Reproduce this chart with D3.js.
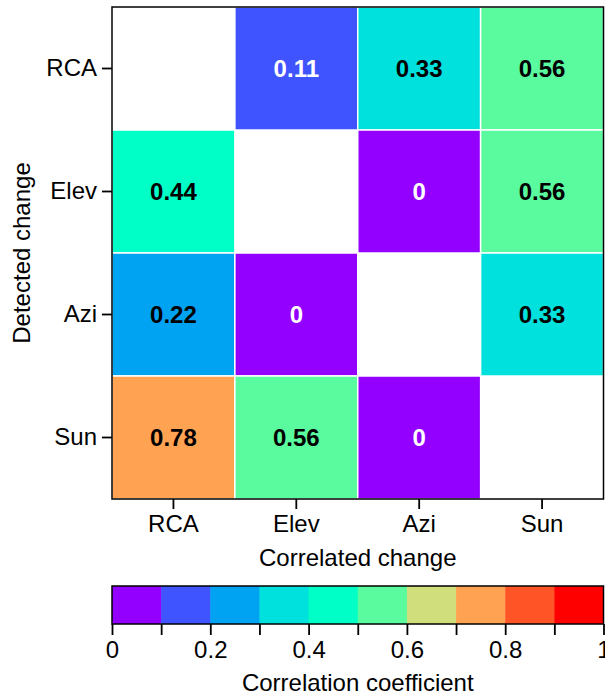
<!DOCTYPE html>
<html><head><meta charset="utf-8">
<script src="https://cdn.jsdelivr.net/npm/d3@7"></script>
<style>body{margin:0;background:#fff;} text{font-family:"Liberation Sans",Arial,sans-serif;}</style>
</head><body>
<svg id="c" width="605" height="697"></svg>
<script>
const detected = ["RCA","Elev","Azi","Sun"];
const correlated = ["RCA","Elev","Azi","Sun"];
const values = [
  [null, 0.11, 0.33, 0.56],
  [0.44, null, 0, 0.56],
  [0.22, 0, null, 0.33],
  [0.78, 0.56, 0, null]
];
const binColors = ["#9300FF","#3F53FF","#00A2F2","#00E0DC","#00FFC6","#5AFA9E","#D0DF7C","#FFA352","#FF5526","#FF0000"];
const colorTicks = [0,0.2,0.4,0.6,0.8,1];

const FS = 24;
const svg = d3.select("#c");
const L=112, T=7, R=603.5, B=499;
const x = d3.scaleBand().domain(correlated).range([L,R]);
const y = d3.scaleBand().domain(detected).range([T,B]);
const color = d3.scaleQuantize().domain([0,1]).range(binColors);

const cells=[];
values.forEach((row,i)=>row.forEach((v,j)=>{ if(v!==null) cells.push({r:detected[i],c:correlated[j],v}); }));

svg.append("g").selectAll("rect").data(cells).join("rect")
  .attr("x",d=>x(d.c)).attr("y",d=>y(d.r))
  .attr("width",x.bandwidth()).attr("height",y.bandwidth())
  .attr("fill",d=>color(d.v)).attr("stroke","#fff").attr("stroke-width",1.5);

svg.append("g").selectAll("text").data(cells).join("text")
  .attr("x",d=>x(d.c)+x.bandwidth()/2).attr("y",d=>y(d.r)+y.bandwidth()/2)
  .attr("dy","0.36em").attr("text-anchor","middle")
  .attr("font-weight","bold").attr("font-size",FS)
  .attr("fill",d=>d.v<0.2?"#fff":"#000")
  .text(d=>d3.format("~g")(d.v));

svg.append("rect").attr("x",L).attr("y",T).attr("width",R-L).attr("height",B-T)
  .attr("fill","none").attr("stroke","#000").attr("stroke-width",1.5);

const xa = svg.append("g").attr("transform",`translate(0,${B})`)
  .call(d3.axisBottom(x).tickSize(10).tickPadding(6));
const ya = svg.append("g").attr("transform",`translate(${L},0)`)
  .call(d3.axisLeft(y).tickSize(10).tickPadding(5));
[xa,ya].forEach(a=>{a.select(".domain").remove();
  a.selectAll("line").attr("stroke","#000").attr("stroke-width",1.8);
  a.selectAll("text").attr("font-size",FS).attr("fill","#000").style("font-family","'Liberation Sans',Arial,sans-serif");});
xa.selectAll("text").attr("dy","0.71em");

svg.append("text").attr("x",(L+R)/2).attr("y",566).attr("text-anchor","middle")
  .attr("font-size",FS).text("Correlated change");
svg.append("text").attr("transform",`translate(30,${(T+B)/2}) rotate(-90)`).attr("text-anchor","middle")
  .attr("font-size",FS).text("Detected change");

// colorbar
const cT=586, cB=624;
const cx = d3.scaleLinear().domain([0,1]).range([L,R]);
svg.append("g").selectAll("rect").data(binColors).join("rect")
  .attr("x",(d,i)=>cx(i/10)).attr("y",cT).attr("width",cx(0.1)-cx(0)+0.5).attr("height",cB-cT)
  .attr("fill",d=>d);
svg.append("rect").attr("x",L).attr("y",cT).attr("width",R-L).attr("height",cB-cT)
  .attr("fill","none").attr("stroke","#000").attr("stroke-width",1.5);
const ca = svg.append("g").attr("transform",`translate(0,${cB})`)
  .call(d3.axisBottom(cx).tickValues(d3.range(0,11).map(i=>i/10)).tickSize(11).tickPadding(6)
    .tickFormat(d=>colorTicks.some(t=>Math.abs(t-d)<1e-9)?d3.format("~g")(d):""));
ca.select(".domain").remove();
ca.selectAll("line").attr("stroke","#000").attr("stroke-width",1.8);
ca.selectAll("text").attr("font-size",FS).attr("fill","#000").attr("dy","0.71em").style("font-family","'Liberation Sans',Arial,sans-serif");
svg.append("text").attr("x",(L+R)/2).attr("y",691).attr("text-anchor","middle")
  .attr("font-size",FS).text("Correlation coefficient");
</script>
</body></html>
